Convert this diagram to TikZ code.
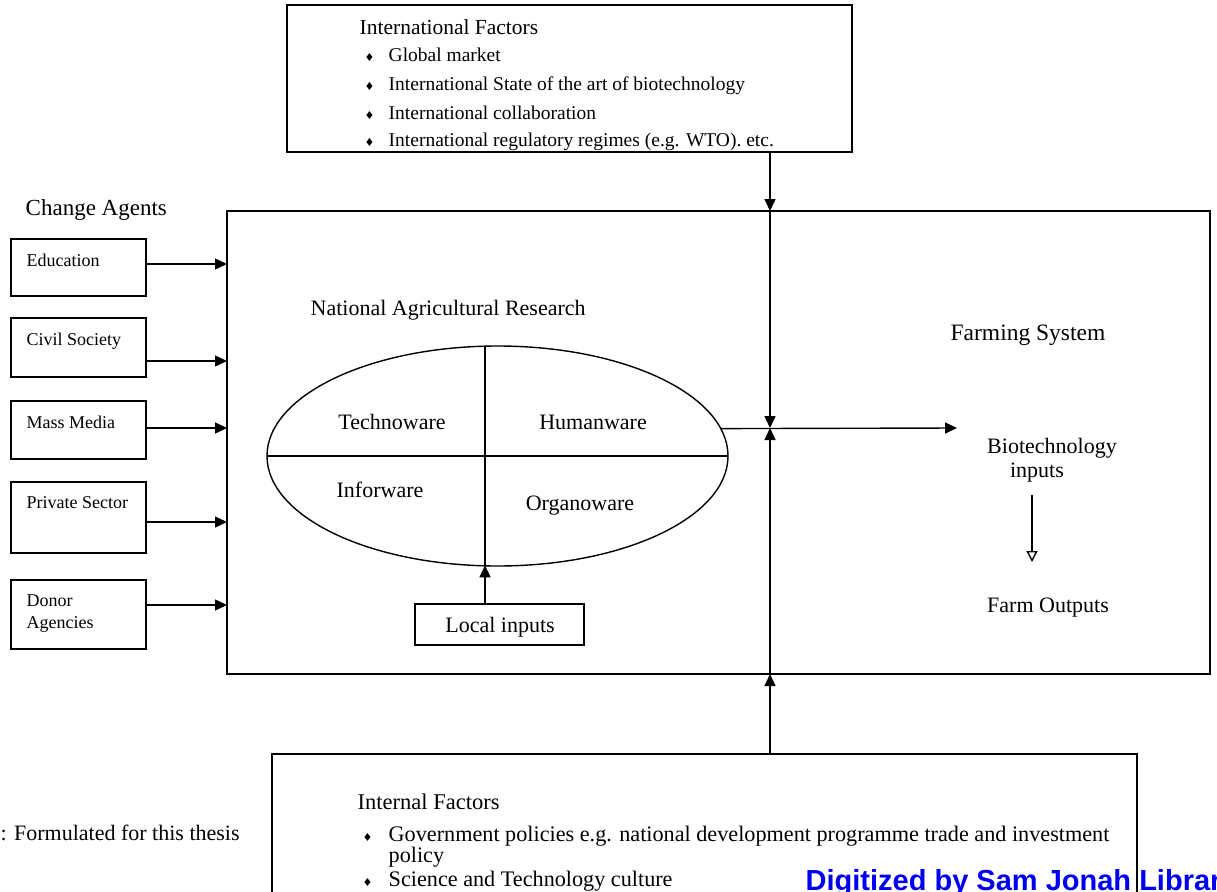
\documentclass[tikz,border=0pt]{standalone}
\usepackage{fontspec}
\setmainfont{Liberation Serif}
\newfontfamily\symf{DejaVu Sans}
\newfontfamily\wmf{Liberation Sans}
\usetikzlibrary{arrows.meta,shapes.geometric}
\newcommand{\myfs}[1]{\fontsize{#1}{#1}\selectfont}
\newcommand{\bul}{{\symf\myfs{11}♦}}
\begin{document}
\begin{tikzpicture}[x=1pt,y=-1pt,line width=1.4pt,
  box/.style={draw,outer sep=0pt,inner sep=0pt,anchor=north west},
  arr/.style={-{Triangle[length=12pt,width=11pt]}},
  openarr/.style={-{Triangle[open,length=11pt,width=11pt]}},
  lbl/.style={inner sep=0pt,anchor=base west},
  ctr/.style={inner sep=0pt,anchor=base},
  headf/.style={font=\myfs{21.5}},
  bodyf/.style={font=\myfs{19.5}},
  smallf/.style={font=\myfs{18}},
  midf/.style={font=\myfs{22}}]
\useasboundingbox (0,0) rectangle (1217,891);

% ---------- top box ----------
\node[box,minimum width=565pt,minimum height=147pt] (top) at (287,5) {};
\node[lbl,headf] (th) at (359,35) {International Factors};
\node[lbl,bodyf] (t1) at (364,62) {\makebox[24pt][l]{\bul}Global market};
\node[lbl,bodyf] (t2) at (364,90) {\makebox[24pt][l]{\bul}International State of the art of biotechnology};
\node[lbl,bodyf] (t3) at (364,119) {\makebox[24pt][l]{\bul}International collaboration};
\node[lbl,bodyf] (t4) at (364,146) {\makebox[24pt][l]{\bul}International regulatory regimes (e.g. WTO). etc.};

% ---------- main box ----------
\node[box,minimum width=983pt,minimum height=463pt] (main) at (227,211) {};
\node[lbl,midf] (nar) at (310,315) {National Agricultural Research};

% ellipse
\node[ellipse,draw,outer sep=0pt,inner sep=0pt,minimum width=461pt,minimum height=220pt] (ell) at (497.5,456) {};
\coordinate (etop) at (485,346.7);
\coordinate (ebot) at (485,565.3);
\draw (ell.west) -- (ell.east);
\draw (etop) -- (ebot);
\node[ctr,midf] (techno) at (392,429.5) {Technoware};
\node[ctr,midf] (human) at (593,429.5) {Humanware};
\node[ctr,midf] (infor) at (380,497.5) {Inforware};
\node[ctr,midf] (organo) at (580,510.5) {Organoware};

% local inputs
\node[box,minimum width=169pt,minimum height=41pt] (loc) at (415,604) {};
\node[ctr,midf] (loct) at (500,632) {Local inputs};
\draw[arr] (loc.north -| ebot) -- (ebot);

% farming system
\node[ctr,font=\myfs{23.5}] (farm) at (1028,340) {Farming System};
\node[ctr,midf] (bio1) at (1052,453.5) {Biotechnology};
\node[ctr,midf] (bio2) at (1037,477.5) {inputs};
\node[ctr,midf] (fout) at (1048,612.5) {Farm Outputs};
\coordinate (fa) at (1032,495);
\coordinate (fb) at (1032,562);
\draw[openarr] (fa) -- (fb);

% junction and flows
\coordinate (j) at (770,428);
\coordinate (bioarr) at (957,428);
\draw[arr] (ell.7.2) -- (bioarr);
\draw[arr] (top.south -| j) -- (main.north -| j);
\draw[arr] (main.north -| j) -- (j);
\draw[arr] (main.south -| j) -- (j);

% ---------- change agents ----------
\node[lbl,font=\myfs{23}] (ca) at (25,215) {Change Agents};
\node[box,minimum width=135pt,minimum height=57pt] (edu) at (11,239) {};
\node[box,minimum width=135pt,minimum height=59pt] (civ) at (11,318) {};
\node[box,minimum width=135pt,minimum height=58pt] (mass) at (11,401) {};
\node[box,minimum width=135pt,minimum height=71pt] (priv) at (11,482) {};
\node[box,minimum width=135pt,minimum height=69pt] (don) at (11,580) {};
\node[lbl,smallf] at (26,266) {Education};
\node[lbl,smallf] at (26,345) {Civil Society};
\node[lbl,smallf] at (26,428) {Mass Media};
\node[lbl,smallf] at (26,508) {Private Sector};
\node[lbl,smallf] at (26,606) {Donor};
\node[lbl,smallf] at (26,628) {Agencies};
\draw[arr] ([yshift=3.5pt]edu.east) -- ([yshift=3.5pt]edu.east -| main.west);
\draw[arr] ([yshift=-13.5pt]civ.east) -- ([yshift=-13.5pt]civ.east -| main.west);
\draw[arr] ([yshift=2pt]mass.east) -- ([yshift=2pt]mass.east -| main.west);
\draw[arr] ([yshift=-4.5pt]priv.east) -- ([yshift=-4.5pt]priv.east -| main.west);
\draw[arr] ([yshift=9.5pt]don.east) -- ([yshift=9.5pt]don.east -| main.west);

% ---------- bottom box ----------
\node[box,minimum width=865pt,minimum height=160pt] (bot) at (272,754) {};
\draw[arr] (bot.north -| j) -- (main.south -| j);
\node[lbl,font=\myfs{22.5}] (bh) at (357,809) {Internal Factors};
\node[lbl,font=\myfs{22.2}] (b1) at (362,841) {\makebox[26pt][l]{\bul}Government policies e.g. national development programme trade and investment};
\node[lbl,font=\myfs{22.2}] (b2) at (388,862) {policy};
\node[lbl,font=\myfs{22.2}] (b3) at (362,886) {\makebox[26pt][l]{\bul}Science and Technology culture};

\node[lbl,font=\myfs{22}] (src) at (0,840) {: Formulated for this thesis};

% watermark
\node[lbl,font=\wmf\bfseries\myfs{29},text={rgb,255:red,0;green,0;blue,240}] (wm) at (805,890) {Digitized by Sam Jonah Library};
\end{tikzpicture}
\end{document}
